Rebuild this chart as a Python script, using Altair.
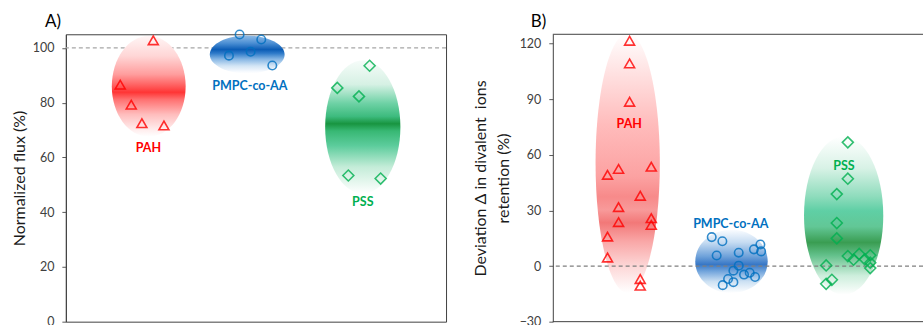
import altair as alt
import pandas as pd

FONT = "Lato"

groups = ["PAH", "PMPC-co-AA", "PSS"]
group_colors = ["#FF0000", "#0070C0", "#00B050"]

# ---------------- Panel A : normalized flux ----------------
a_pah_x = [1.43, 1.72, 2.00, 2.30, 2.58]
a_pah_y = [86.6, 79.3, 72.5, 102.8, 71.7]
a_pmpc_x = [4.29, 4.57, 4.86, 5.14, 5.43]
a_pmpc_y = [97.2, 104.9, 98.6, 103.1, 93.6]
a_pss_x = [7.14, 7.43, 7.71, 7.99, 8.28]
a_pss_y = [85.4, 53.4, 82.3, 93.5, 52.3]
a_ell_x = [2.18, 4.77, 7.81]
a_ell_y = [86.0, 97.6, 71.1]
a_lab_x = [2.17, 4.84, 7.81]
a_lab_y = [63.5, 86.2, 43.6]
a_ref = [100]
a_ticks = [0, 20, 40, 60, 80, 100]

# ---------------- Panel B : deviation in divalent ion retention ----------------
b_pah_x = [2.02, 2.02, 2.02, 1.44, 1.73, 2.59, 2.30, 1.73, 1.73, 2.59, 2.59, 1.44, 1.44, 2.30, 2.30]
b_pah_y = [121.5, 109.3, 88.6, 49.2, 52.4, 53.6, 37.9, 31.8, 23.7, 25.8, 22.2, 15.9, 4.6, -7.0, -10.6]
b_pmpc_x = [4.18, 4.46, 4.31, 4.89, 5.29, 5.46, 5.48, 4.89, 4.75, 5.03, 5.18, 5.32, 4.61, 4.75, 4.47]
b_pmpc_y = [15.6, 13.4, 5.7, 7.2, 9.0, 11.6, 7.9, 0.2, -2.5, -4.6, -3.6, -5.9, -7.0, -8.7, -10.3]
b_pss_x = [7.76, 7.76, 7.47, 7.47, 7.47, 7.76, 7.91, 8.06, 8.21, 8.35, 8.35, 8.35, 7.19, 7.34, 7.19]
b_pss_y = [66.7, 47.1, 38.8, 23.2, 14.9, 5.4, 3.4, 6.5, 3.6, 5.8, 1.8, -1.1, 0.3, -7.4, -9.6]
b_ell_x = [1.97, 4.70, 7.65]
b_ell_y = [55.5, 2.5, 27.2]
b_lab_x = [2.01, 4.68, 7.66]
b_lab_y = [76.8, 22.8, 53.9]
b_ref = [0]
b_ticks = [-30, 0, 30, 60, 90, 120]

panel_labels = ["A)", "B)"]

# ---------------- styles ----------------
A_W, A_H = 381, 288
B_W, B_H = 371, 288
PX_PER_UNIT = 38.1

a_ell_size = [(37, 50.5), (37.5, 19), (37.7, 66.7)]
b_ell_size = [(32.2, 130), (36.3, 31.7), (39.7, 79.2)]


def grad(stops):
    return {"gradient": "linear", "x1": 0, "y1": 0, "x2": 0, "y2": 1,
            "stops": [{"offset": o, "color": c} for o, c in stops]}


a_grads = [
    grad([(0, "#fff6f6"), (0.2, "#ffd6d6"), (0.38, "#ff9e9e"), (0.5, "#ff5a5a"),
          (0.56, "#ff3535"), (0.63, "#ff7070"), (0.78, "#ffbdbd"), (0.92, "#ffeaea"), (1, "#ffffff")]),
    grad([(0, "#8fbbe6"), (0.2, "#4b8fd4"), (0.37, "#0b5cb5"), (0.47, "#2f7bc9"),
          (0.62, "#86b6e4"), (0.8, "#d3e5f5"), (0.95, "#f7fafe"), (1, "#ffffff")]),
    grad([(0, "#f6fcf9"), (0.18, "#d6f1e4"), (0.32, "#6fd2a6"), (0.42, "#3dbb7e"),
          (0.475, "#189540"), (0.53, "#38b874"), (0.64, "#5ccc9c"), (0.8, "#c4ecd8"), (1, "#ffffff")]),
]
b_grads = [
    grad([(0, "#ffffff"), (0.15, "#ffe2e2"), (0.35, "#ffbcbc"), (0.55, "#fca2a2"),
          (0.63, "#f78a8a"), (0.68, "#f89a9a"), (0.73, "#f27878"), (0.8, "#f9a6a6"),
          (0.9, "#fdd8d8"), (1, "#ffffff")]),
    grad([(0, "#fafcff"), (0.2, "#c6dcf2"), (0.42, "#6fa2da"), (0.55, "#3777c6"),
          (0.65, "#6ea2db"), (0.82, "#cde1f3"), (1, "#ffffff")]),
    grad([(0, "#ffffff"), (0.2, "#d8f2e6"), (0.38, "#8edcbc"), (0.47, "#5fcfa5"),
          (0.57, "#62c796"), (0.67, "#3a9d52"), (0.75, "#62c08a"), (0.88, "#cdeedc"), (1, "#ffffff")]),
]

marker_shapes = ["triangle-up", "circle", "diamond"]
marker_sizes = [100, 72, 121]


def panel(xs_list, ys_list, ell_x, ell_y, ell_size, grads, lab_x, lab_y, ref,
          ydomain, ticks, width, ytitle, plabel, plabel_dx, ref_color, ref_on_top, title_pad):
    xscale = alt.Scale(domain=[0, width / PX_PER_UNIT], nice=False, zero=False)
    yscale = alt.Scale(domain=ydomain, nice=False, zero=False)
    yaxis = alt.Axis(values=ticks, grid=False, tickSize=4, labelPadding=8,
                     tickColor="#595959", domainColor="#404040", labelColor="#404040",
                     labelFontSize=12.5, titleFontSize=16, titleColor="#1a1a1a",
                     titlePadding=title_pad, titleFontWeight="normal", titleLineHeight=23)
    xenc = alt.X("x:Q", scale=xscale, axis=None)
    yenc = alt.Y("y:Q", scale=yscale, axis=yaxis, title=ytitle)

    layers = []
    ref_layer = alt.Chart(pd.DataFrame({"y": ref})).mark_rule(
        color=ref_color, strokeDash=[4, 3], strokeWidth=1.3).encode(y=yenc)
    if not ref_on_top:
        layers.append(ref_layer)
    for i in range(3):
        hw, hh = ell_size[i]
        path = f"M{-hw},0A{hw},{hh},0,1,0,{hw},0A{hw},{hh},0,1,0,{-hw},0Z"
        df = pd.DataFrame({"x": [ell_x[i]], "y": [ell_y[i]]})
        layers.append(alt.Chart(df).mark_point(
            shape=path, size=4, filled=True, fill=grads[i], strokeWidth=0,
            opacity=1).encode(x=xenc, y=yenc))
    if ref_on_top:
        layers.append(ref_layer)
    for i in range(3):
        df = pd.DataFrame({"x": xs_list[i], "y": ys_list[i]})
        layers.append(alt.Chart(df).mark_point(
            shape=marker_shapes[i], size=marker_sizes[i], filled=False,
            stroke=group_colors[i], strokeWidth=1.6, opacity=0.8).encode(x=xenc, y=yenc))
    lab_df = pd.DataFrame({"x": lab_x, "y": lab_y, "name": groups})
    layers.append(alt.Chart(lab_df).mark_text(
        font=FONT, fontWeight="bold", fontSize=12.5, align="center", baseline="middle").encode(
        x=xenc, y=yenc, text="name:N",
        color=alt.Color("name:N", scale=alt.Scale(domain=groups, range=group_colors), legend=None)))
    # panel letter
    layers.append(alt.Chart(pd.DataFrame({"t": [plabel]})).mark_text(
        font=FONT, fontSize=17, align="left", baseline="alphabetic", color="#000000").encode(
        x=alt.value(plabel_dx), y=alt.value(-7), text="t:N"))
    return layers, xenc, yenc


a_layers, _, a_yenc = panel([a_pah_x, a_pmpc_x, a_pss_x], [a_pah_y, a_pmpc_y, a_pss_y],
                            a_ell_x, a_ell_y, a_ell_size, a_grads, a_lab_x, a_lab_y, a_ref,
                            [0, 105], a_ticks, A_W, "Normalized flux (%)", panel_labels[0], -21,
                            "#a6a6a6", False, 5)
chartA = alt.layer(*a_layers).properties(
    width=A_W, height=A_H,
    view=alt.ViewBackground(stroke="#404040", strokeWidth=1))

b_layers, _, b_yenc = panel([b_pah_x, b_pmpc_x, b_pss_x], [b_pah_y, b_pmpc_y, b_pss_y],
                            b_ell_x, b_ell_y, b_ell_size, b_grads, b_lab_x, b_lab_y, b_ref,
                            [-30, 125], b_ticks, B_W,
                            ["Deviation \u0394 in divalent\u00a0 ions", "retention (%)"], panel_labels[1], -22,
                            "#7f7f7f", True, 8)
frame_df = pd.DataFrame({"y": [125, -30]})
b_layers.append(alt.Chart(frame_df).mark_rule(color="#404040", strokeWidth=1).encode(y=b_yenc))
chartB = alt.layer(*b_layers).properties(
    width=B_W, height=B_H,
    view=alt.ViewBackground(stroke=None))

chart = alt.hconcat(chartA, chartB, spacing=107, bounds="flush").properties(
    padding={"left": 10, "top": 12, "right": 0, "bottom": 0}
).configure_axis(labelFont=FONT, titleFont=FONT).configure_view(stroke=None)

chart.save("out.html", embed_options={"renderer": "svg", "actions": False})
